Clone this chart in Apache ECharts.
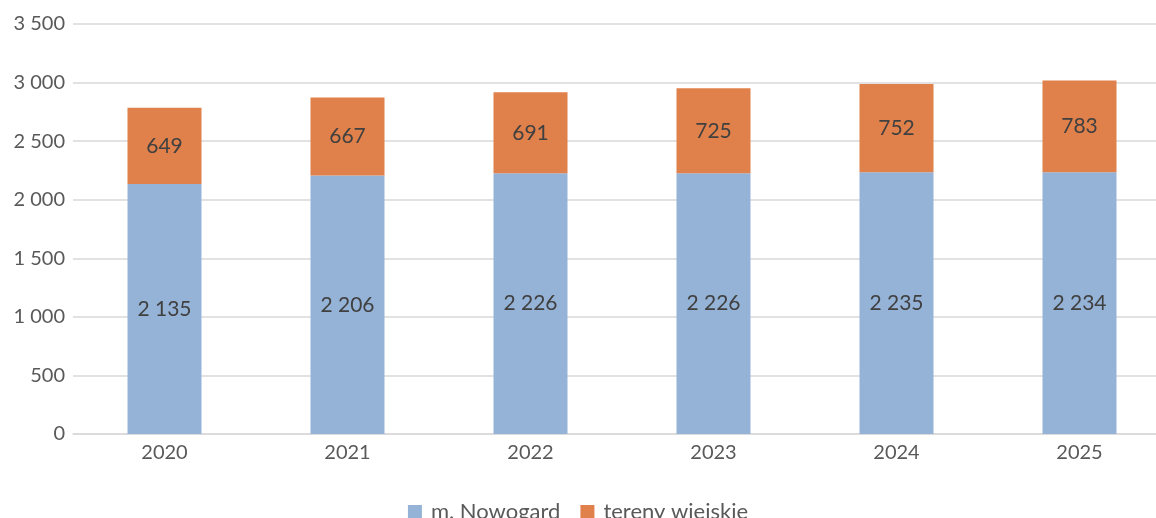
<!DOCTYPE html>
<html>
<head>
<meta charset="utf-8">
<script src="https://cdn.jsdelivr.net/npm/echarts@6/dist/echarts.min.js"></script>
<style>
  html, body { margin: 0; padding: 0; background: #fff; }
  #chart { width: 1156px; height: 518px; }
</style>
</head>
<body>
<div id="chart"></div>
<script>
  const years = ['2020', '2021', '2022', '2023', '2024', '2025'];
  const miasto = [2135, 2206, 2226, 2226, 2235, 2234];
  const wies = [649, 667, 691, 725, 752, 783];
  const seriesNames = ['m. Nowogard', 'tereny wiejskie'];

  // separator tysięcy spacją
  const fmt = v => String(v).replace(/\B(?=(\d{3})+(?!\d))/g, ' ');
  const font = 'Lato, "Open Sans", sans-serif';

  const chart = echarts.init(document.getElementById('chart'));
  chart.setOption({
    animation: false,
    color: ['#95b3d7', '#e0804a'],
    textStyle: { fontFamily: font },
    grid: { left: 73, width: 1098, top: 24, bottom: 84, outerBoundsMode: 'none' },
    legend: {
      top: 496,
      left: 'center',
      itemWidth: 14,
      itemHeight: 14,
      itemGap: 20,
      icon: 'rect',
      textStyle: { fontSize: 22, color: '#595959', fontFamily: font, padding: [0, 0, 0, 4] },
      data: seriesNames
    },
    xAxis: {
      type: 'category',
      data: years,
      axisTick: { show: false },
      axisLine: { lineStyle: { color: '#d9d9d9', width: 1.5 } },
      axisLabel: { color: '#595959', fontSize: 20, margin: 9 }
    },
    yAxis: {
      type: 'value',
      min: 0,
      max: 3500,
      interval: 500,
      axisLine: { show: false },
      axisTick: { show: false },
      splitLine: { lineStyle: { color: '#d9d9d9', width: 1.5 } },
      axisLabel: { color: '#595959', fontSize: 20, margin: 8, formatter: fmt }
    },
    series: [
      {
        name: seriesNames[0],
        type: 'bar',
        stack: 'total',
        barWidth: 74,
        data: miasto,
        label: { show: true, position: 'inside', color: '#404040', fontSize: 21, formatter: p => fmt(p.value) }
      },
      {
        name: seriesNames[1],
        type: 'bar',
        stack: 'total',
        barWidth: 74,
        data: wies,
        label: { show: true, position: 'inside', color: '#404040', fontSize: 21, formatter: p => fmt(p.value) }
      }
    ]
  });
</script>
</body>
</html>
